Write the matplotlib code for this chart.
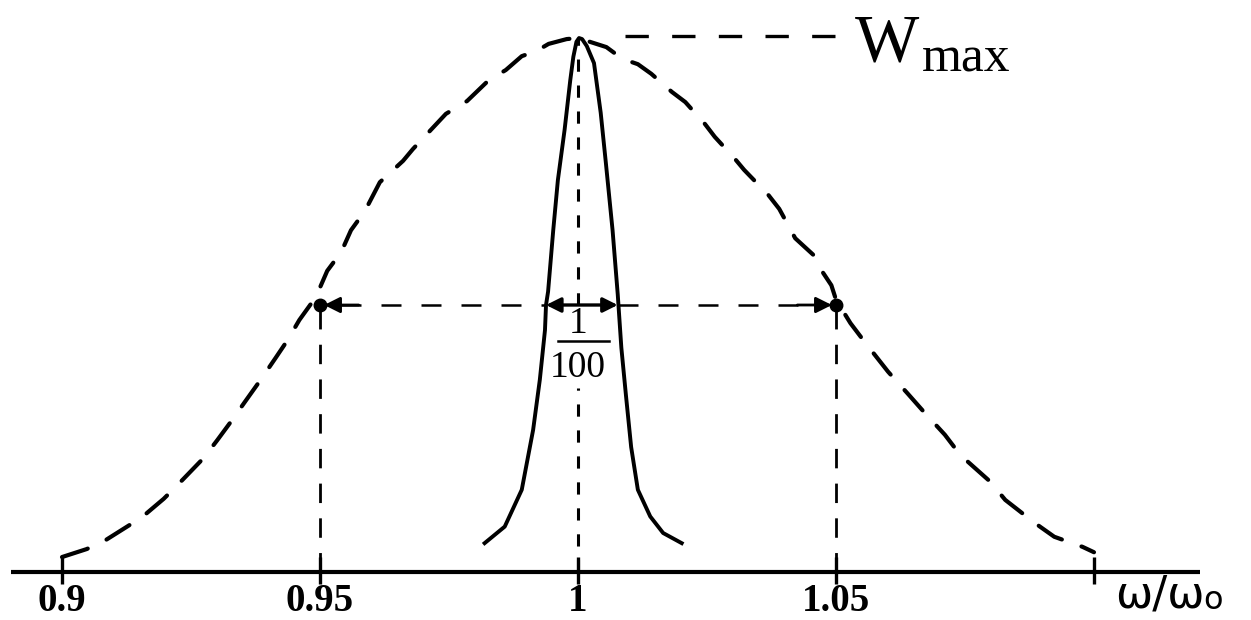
import matplotlib
matplotlib.use("Agg")
import matplotlib.pyplot as plt

# Broad line (dashed): frequency ratio and relative power
broad_x = [0.9000, 0.9048, 0.9085, 0.9131, 0.9164, 0.9197, 0.9224, 0.9274,
           0.9301, 0.9330, 0.9354, 0.9385, 0.9414, 0.9437, 0.9460, 0.9492,
           0.9514, 0.9541, 0.9560, 0.9587, 0.9616, 0.9661, 0.9680, 0.9711,
           0.9744, 0.9785, 0.9827, 0.9860, 0.9891, 0.9920, 0.9943, 0.9978,
           1.0000,
           1.0055, 1.0086, 1.0116, 1.0142, 1.0182, 1.0208, 1.0246, 1.0265,
           1.0303, 1.0322, 1.0369, 1.0390, 1.0421, 1.0456, 1.0469, 1.0491,
           1.0500, 1.0528, 1.0557, 1.0601, 1.0640, 1.0672, 1.0711, 1.0741,
           1.0798, 1.0828, 1.0885, 1.0923, 1.0978, 1.1000]
broad_y = [0.028, 0.043, 0.060, 0.088, 0.110, 0.137, 0.163, 0.213,
           0.247, 0.285, 0.318, 0.360, 0.401, 0.434, 0.472, 0.515,
           0.564, 0.599, 0.640, 0.676, 0.730, 0.770, 0.792, 0.824,
           0.858, 0.882, 0.921, 0.940, 0.966, 0.976, 0.989, 0.998,
           1.000,
           0.983, 0.961, 0.951, 0.933, 0.899, 0.880, 0.839, 0.815,
           0.775, 0.753, 0.706, 0.680, 0.625, 0.594, 0.569, 0.537,
           0.510, 0.466, 0.429, 0.375, 0.333, 0.298, 0.257, 0.219,
           0.170, 0.135, 0.092, 0.066, 0.047, 0.037]

# Narrow line (solid)
narrow_x = [0.9819, 0.9858, 0.9891, 0.9913, 0.9926, 0.9936, 0.9938, 0.9942,
            0.9952, 0.9961, 0.9974, 0.9985, 0.9991, 0.9997, 1.0002,
            1.0008, 1.0017, 1.0031, 1.0044, 1.0054, 1.0067, 1.0077, 1.0084,
            1.0093, 1.0103, 1.0116, 1.0140, 1.0165, 1.0201]
narrow_y = [0.054, 0.085, 0.154, 0.266, 0.360, 0.453, 0.500, 0.525,
            0.640, 0.734, 0.828, 0.921, 0.965, 0.993, 1.000,
            0.998, 0.985, 0.953, 0.860, 0.766, 0.640, 0.520, 0.420,
            0.330, 0.234, 0.154, 0.104, 0.073, 0.054]

tick_values = [0.9, 0.95, 1.0, 1.05, 1.1]
tick_labels = ["0.9", "0.95", "1", "1.05", ""]

half_level = 0.5
narrow_half = (0.9938, 1.0077)
broad_half = (0.95, 1.05)

fig = plt.figure(figsize=(12.51, 6.20), dpi=100)
ax = fig.add_axes([0, 0, 1, 1])
ax.set_xlim(0.88798, 1.13043)
ax.set_ylim(-0.0899, 1.0712)
ax.axis("off")

# horizontal axis with ticks
ax.plot([0.8901, 1.1205], [0, 0], color="black", lw=3.0, solid_capstyle="butt")
for t in tick_values:
    ax.plot([t, t], [-0.022, 0.028], color="black", lw=2.4, solid_capstyle="butt")
for t, lab in zip(tick_values, tick_labels):
    ax.text(t, -0.0735, lab, ha="center", va="baseline", fontsize=28,
            fontweight="bold", family="Liberation Serif")
ax.text(1.1040, -0.0674, "ω/ω", ha="left", va="baseline", fontsize=32,
        family="DejaVu Sans")
ax.text(1.1211, -0.0700, "o", ha="left", va="baseline", fontsize=23,
        family="DejaVu Sans")

# broad line
ax.plot(broad_x, broad_y, color="black", lw=3.0, dashes=(6.5, 5),
        dash_capstyle="round")

# narrow line
ax.plot(narrow_x, narrow_y, color="black", lw=2.8, solid_joinstyle="round")

# centre line, interrupted by the width label
ax.plot([1.0, 1.0], [0, 0.345], color="black", lw=2.2, dashes=(4, 4.5))
ax.plot([1.0, 1.0], [0.5, 1.0], color="black", lw=2.2, dashes=(4, 4.5))

# verticals at the half-power points
for xv in broad_half:
    ax.plot([xv, xv], [0, half_level], color="black", lw=2.0, dashes=(7, 5.5))

# half-power level, dashed between the two widths
ax.plot([broad_half[0] + 0.004, narrow_half[0]], [half_level, half_level],
        color="black", lw=1.8, dashes=(8, 8))
ax.plot([narrow_half[1], broad_half[1] - 0.004], [half_level, half_level],
        color="black", lw=1.8, dashes=(8, 8))

# arrowheads pointing to the half-power points
for start, end in [(broad_half[0] + 0.0075, broad_half[0] + 0.0008),
                   (broad_half[1] - 0.0075, broad_half[1] - 0.0008)]:
    ax.annotate("", xy=(end, half_level), xytext=(start, half_level),
                arrowprops=dict(arrowstyle="-|>", color="black", lw=2.0,
                                mutation_scale=24, shrinkA=0, shrinkB=0))
ax.plot(broad_half, [half_level, half_level], "o", color="black", ms=9)

# width of the narrow line
ax.annotate("", xy=(narrow_half[0], half_level), xytext=(narrow_half[1], half_level),
            arrowprops=dict(arrowstyle="<|-|>", color="black", lw=2.4,
                            mutation_scale=22, shrinkA=0, shrinkB=0))
ax.text(1.0, 0.4476, "1", ha="center", va="baseline", fontsize=27,
        family="Liberation Serif")
ax.plot([0.99612, 1.00600], [0.4326, 0.4326], color="black", lw=1.8)
ax.text(1.0, 0.365, "100", ha="center", va="baseline", fontsize=27,
        family="Liberation Serif")

# maximum level
ax.plot([1.0091, 1.0508], [1.003, 1.003], color="black", lw=2.4, dashes=(7, 7))
ax.text(1.0537, 0.9588, "W", ha="left", va="baseline", fontsize=49,
        family="Liberation Serif")
ax.text(1.0667, 0.938, "max", ha="left", va="baseline", fontsize=37,
        family="Liberation Serif")

fig.savefig("out.png", dpi=100)
